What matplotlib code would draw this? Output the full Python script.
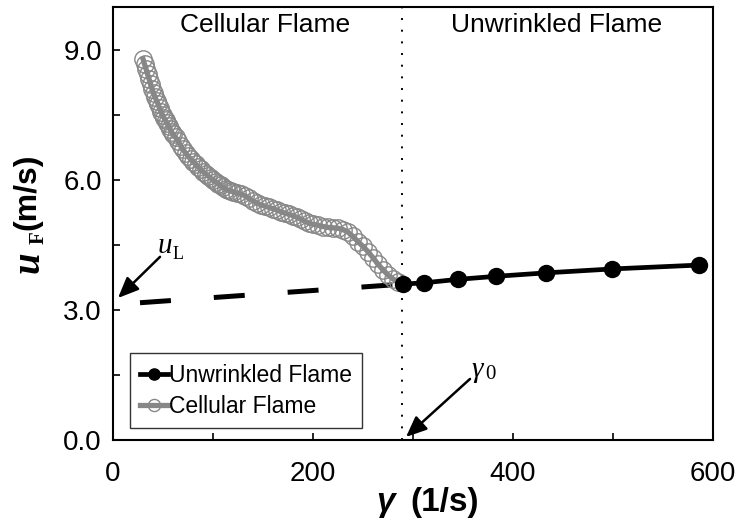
import matplotlib
matplotlib.use("Agg")
import matplotlib.pyplot as plt
from matplotlib.ticker import MultipleLocator, FormatStrFormatter

# ---------------- data ----------------
gamma_unw = [290, 311, 345, 383, 433, 499, 586]
u_unw = [3.60, 3.63, 3.71, 3.78, 3.86, 3.95, 4.04]

fit_gamma = [27, 290]
fit_u = [3.17, 3.60]

gamma_cell = [30, 31.5, 33, 34.5, 36, 37.5, 39, 40.5, 42, 43.5, 45, 46.5, 48, 49.5, 51,
              52.5, 54, 55.5, 57, 58.5, 60, 62.5, 65, 67.5, 70, 72.5, 75, 77.5, 80, 82.5,
              85, 87.5, 90, 92.5, 95, 97.5, 100, 102.5, 105, 107.5, 110, 112.5, 115, 117.5,
              120, 124, 128, 132, 136, 140, 144, 148, 152, 156, 160, 164, 168, 172, 176,
              180, 184, 188, 192, 196, 200, 205, 210, 215, 220, 225, 230, 235, 240, 245,
              250, 255, 260, 265, 270, 275, 280, 285]
u_cell = [8.80, 8.68, 8.57, 8.45, 8.34, 8.22, 8.11, 8.01, 7.92, 7.84, 7.76, 7.66, 7.58,
          7.50, 7.44, 7.38, 7.31, 7.25, 7.18, 7.12, 7.06, 6.99, 6.91, 6.80, 6.71, 6.63,
          6.56, 6.49, 6.43, 6.37, 6.31, 6.25, 6.20, 6.15, 6.10, 6.05, 6.00, 5.96, 5.92,
          5.88, 5.84, 5.80, 5.77, 5.75, 5.73, 5.70, 5.68, 5.64, 5.58, 5.52, 5.47, 5.43,
          5.40, 5.37, 5.34, 5.31, 5.27, 5.24, 5.21, 5.18, 5.14, 5.10, 5.05, 5.01, 4.98,
          4.96, 4.93, 4.91, 4.90, 4.89, 4.86, 4.80, 4.70, 4.58, 4.47, 4.35, 4.21, 4.06,
          3.93, 3.81, 3.72, 3.65]

gamma0 = 288.5
x_ticks = [0, 200, 400, 600]
y_ticks = [0.0, 3.0, 6.0, 9.0]

# ---------------- figure ----------------
W, H = 736, 520
fig = plt.figure(figsize=(W / 100, H / 100), dpi=100)
ax = fig.add_axes([113 / W, 80 / H, 600 / W, 433 / H])

SANS = "Liberation Sans"
SERIF = "Liberation Serif"
GRAY = "#878787"

# cellular flame
ax.plot(gamma_cell, u_cell, color=GRAY, lw=3.8, marker="o", ms=12.5,
        mfc="none", mec=GRAY, mew=1.0, label="Cellular Flame", zorder=3)
# linear fit extrapolation (dashed)
ax.plot(fit_gamma, fit_u, color="black", lw=3.6, ls=(0, (6.2, 8.6)),
        solid_capstyle="butt", dash_capstyle="butt", zorder=2)
# unwrinkled flame
ax.plot(gamma_unw, u_unw, color="black", lw=3.4, marker="o", ms=11.5,
        mfc="black", mec="black", label="Unwrinkled Flame", zorder=4)

# dotted vertical line
ax.axvline(gamma0, color="black", lw=1.4, ls=(0, (1, 5)), zorder=1)

ax.set_xlim(0, 600)
ax.set_ylim(0, 10)
ax.set_xticks(x_ticks)
ax.set_yticks(y_ticks)
ax.xaxis.set_minor_locator(MultipleLocator(100))
ax.yaxis.set_minor_locator(MultipleLocator(1.5))
ax.yaxis.set_major_formatter(FormatStrFormatter("%.1f"))
ax.tick_params(which="both", direction="in", length=5, width=1.2)
ax.tick_params(axis="x", which="major", pad=15)
ax.tick_params(axis="y", which="major", pad=8)
for lab in ax.get_xticklabels() + ax.get_yticklabels():
    lab.set_fontfamily(SANS)
    lab.set_fontsize(20)
for s in ax.spines.values():
    s.set_linewidth(1.5)

# region labels
ax.text(152, 9.58, "Cellular Flame", ha="center", va="center",
        family=SANS, fontsize=19)
ax.text(444, 9.58, "Unwrinkled Flame", ha="center", va="center",
        family=SANS, fontsize=19)

# legend
h, l = ax.get_legend_handles_labels()
leg = ax.legend([h[1], h[0]], [l[1], l[0]], loc="lower left",
                bbox_to_anchor=(0.028, 0.028), borderaxespad=0,
                prop={"family": SANS, "size": 16.5}, handlelength=1.2,
                handletextpad=0.05, labelspacing=0.35, markerscale=0.7,
                fancybox=False, frameon=True, borderpad=0.45)
leg.get_frame().set_edgecolor("black")
leg.get_frame().set_linewidth(1.0)

# annotations: u_L
ax.annotate("", xy=(5, 3.28), xytext=(47, 4.23),
            arrowprops=dict(arrowstyle="-|>,head_length=0.7,head_width=0.3",
                            color="black", lw=1.8, mutation_scale=18,
                            shrinkA=0, shrinkB=0))
ax.text(45, 4.32, "u", family=SERIF, style="italic", fontsize=21,
        ha="left", va="baseline")
ax.text(60, 4.18, "L", family=SERIF, fontsize=13, ha="left", va="baseline")

# annotations: gamma_0
ax.annotate("", xy=(293, 0.07), xytext=(357, 1.41),
            arrowprops=dict(arrowstyle="-|>,head_length=0.7,head_width=0.3",
                            color="black", lw=1.8, mutation_scale=18,
                            shrinkA=0, shrinkB=0))
ax.text(358, 1.45, "γ", family=SERIF, style="italic", fontsize=21,
        ha="left", va="baseline")
ax.text(372, 1.42, "0", family=SERIF, fontsize=15, ha="left", va="baseline")

# axis labels (pixel-placed pieces)
def fx(px):
    return px / W

def fy(py):
    return 1 - py / H

fig.text(fx(386), fy(503), "γ", family=SANS, weight="bold", style="italic",
         fontsize=24, ha="center", va="center")
fig.text(fx(445), fy(503), "(1/s)", family=SANS, weight="bold",
         fontsize=24, ha="center", va="center")

fig.text(fx(27), fy(192), "(m/s)", family=SANS, weight="bold", fontsize=23,
         rotation=90, ha="center", va="center")
fig.text(fx(29), fy(262), "u", family=SERIF, weight="bold", style="italic",
         fontsize=28, rotation=90, ha="center", va="center")
fig.text(fx(39), fy(238), "F", family=SERIF, weight="bold", fontsize=15,
         rotation=90, ha="center", va="center")

fig.savefig("out.png", dpi=100)
